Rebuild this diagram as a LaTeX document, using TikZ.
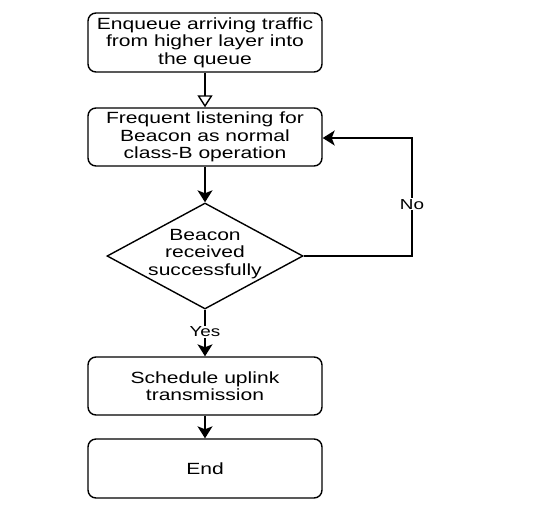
\documentclass[tikz,border=0pt]{standalone}
\usepackage{fontspec}
\setmainfont{Liberation Sans}[FakeStretch=1.3]
\usetikzlibrary{shapes.geometric,arrows.meta}
\begin{document}
\begin{tikzpicture}[x=1pt,y=1pt,
  every node/.style={font=\fontsize{16.2pt}{17.5pt}\selectfont},
  procbox/.style={draw, line width=1.4pt, rounded corners=8pt, minimum width=234pt, align=center, inner sep=0pt},
  decision/.style={draw, line width=1.4pt, diamond, minimum width=196pt, minimum height=106pt, inner sep=0pt},
  conn/.style={draw, line width=1.4pt, -{Stealth[length=12pt,width=15pt,inset=3pt]}},
  openconn/.style={draw, line width=1.4pt, -{Triangle[open,length=12pt,width=15pt,fill=white]}},
  lbl/.style={fill=white, inner sep=1pt, font=\fontsize{14.5pt}{16pt}\selectfont}
]
\useasboundingbox (0,0) rectangle (540,-517);
\node[procbox, minimum height=59pt] (b1) at (205,-42.5) {Enqueue arriving traffic\\from higher layer into\\the queue};
\node[procbox, minimum height=58pt] (b2) at (205,-137) {Frequent listening for\\Beacon as normal\\class-B operation};
\node[decision] (d) at (205,-256) {};
\node[align=center] (dt) at (205,-254) {Beacon\\received\\successfully};
\node[procbox, minimum height=58pt] (b3) at (205,-386) {Schedule uplink\\transmission};
\node[procbox, minimum height=59pt] (b4) at (205,-468.5) {End};
\coordinate (c1) at (412,-256);
\coordinate (c2) at (412,-138);
\draw[openconn] (b1) -- (b2);
\draw[conn] (b2) -- (d);
\draw[conn] (d) -- node[lbl, pos=0.48] {Yes} (b3);
\draw[conn] (b3) -- (b4);
\draw[conn] (d.east) -- (c1) -- node[lbl, pos=0.44] {No} (c2) -- (b2.east |- c2);
\end{tikzpicture}
\end{document}
